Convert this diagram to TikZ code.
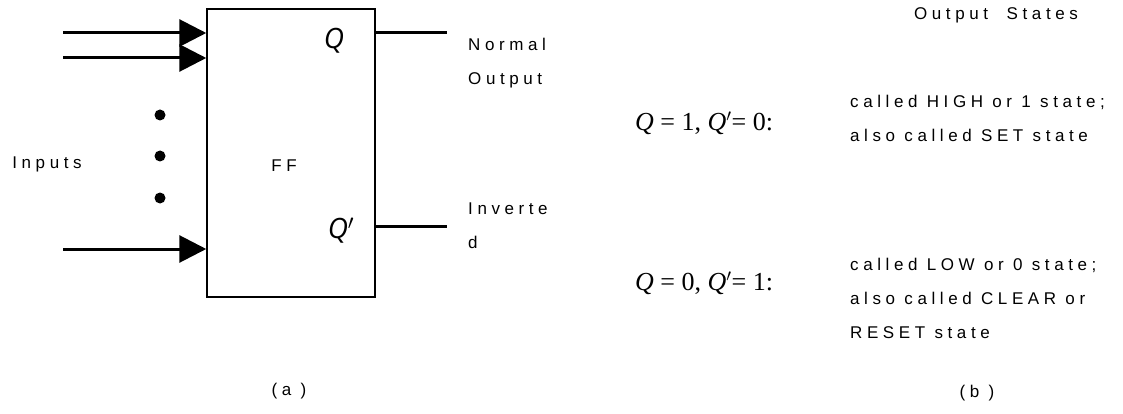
\documentclass[tikz,border=0pt]{standalone}
\usepackage{fontspec}
\setmainfont{Liberation Sans}
\newfontfamily\spaced{Liberation Sans}[LetterSpace=27]
\newfontfamily\qfont{Open Sans}
\newfontfamily\eqfont{Liberation Serif}
\usetikzlibrary{arrows.meta, positioning}

\begin{document}
\begin{tikzpicture}[
    x=1pt,
    y=-1pt,
    txt/.style={font=\spaced\fontsize{17}{34}\selectfont, inner sep=0pt, align=left},
    ffbox/.style={rectangle, draw=black, line width=1.5pt, minimum width=168pt, minimum height=288pt},
    pin/.style={line width=3pt, -{Triangle[length=27pt, width=27pt]}},
    outwire/.style={line width=3pt},
    qlabel/.style={font=\qfont\itshape\fontsize{28}{32}\selectfont, inner sep=0pt},
    eqn/.style={font=\eqfont\fontsize{26}{30}\selectfont, inner sep=0pt, anchor=west},
    dot/.style={circle, fill=black, inner sep=0pt, minimum size=11pt}
]
    \useasboundingbox (0,0) rectangle (1123,414);

    % (a) Flip-flop block
    \node[ffbox] (ff) at (291,153) {};
    \node[txt] (fflabel) at (284,166) {FF};
    \node[qlabel] (q) at (334,41) {Q};
    \node[qlabel] (qbar) at (341,231) {Q$'$};

    % Inputs
    \coordinate (in1) at (63,33);
    \coordinate (in2) at (63,58);
    \coordinate (in3) at (63,249);
    \draw[pin] (in1) -- (in1 -| ff.west);
    \draw[pin] (in2) -- (in2 -| ff.west);
    \draw[pin] (in3) -- (in3 -| ff.west);
    \foreach \y [count=\i] in {115,156,198}
        \node[dot] (dot\i) at (160,\y) {};
    \node[txt] (inputs) at (47,164) {Inputs};

    % Outputs
    \coordinate (out1) at (447,33);
    \coordinate (out2) at (447,226);
    \draw[outwire] (ff.east |- out1) -- (out1);
    \draw[outwire] (ff.east |- out2) -- (out2);
    \node[txt, anchor=west] (normal) at (468,63) {Normal\\Output};
    \node[txt, anchor=west] (inverted) at (468,226) {Inverte\\d};

    \node[txt] (capa) at (289,391) {(a )};

    % (b) Output states
    \node[txt] (title) at (996,15) {Output \ States};
    \node[eqn] (seteq) at (635,123) {\textit{Q} = 1, \textit{Q}$'$= 0:};
    \node[txt, anchor=west] (settxt) at (850,118) {called HIGH or 1 state;\\also called SET state};
    \node[eqn] (reseteq) at (635,283) {\textit{Q} = 0, \textit{Q}$'$= 1:};
    \node[txt, anchor=west] (resettxt) at (850,298) {called LOW or 0 state;\\also called CLEAR or\\RESET state};

    \node[txt] (capb) at (977,393) {(b )};

\end{tikzpicture}
\end{document}
